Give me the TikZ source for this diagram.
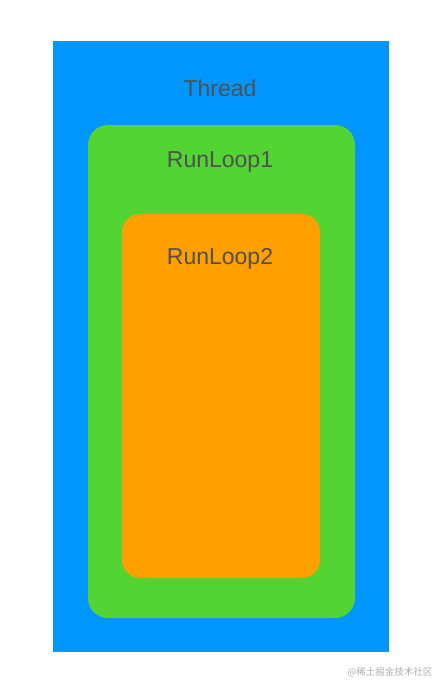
\documentclass[tikz,border=0pt]{standalone}
\usepackage{fontspec}
\setmainfont{Liberation Sans}
\newfontfamily\cjk{Noto Sans CJK SC}
\definecolor{threadblue}{RGB}{0,150,255}
\definecolor{loopgreen}{RGB}{82,212,50}
\definecolor{looporange}{RGB}{255,160,0}
\definecolor{labelgray}{RGB}{80,80,80}
\definecolor{markgray}{RGB}{175,175,175}
\tikzset{
  box/.style={draw=none, inner sep=0pt, outer sep=0pt},
  title/.style={text=labelgray, font=\fontsize{23}{27}\selectfont, inner sep=0pt}
}
\begin{document}
\begin{tikzpicture}[x=1pt,y=-1pt]
\useasboundingbox (0,0) rectangle (447,693);
\fill[white] (0,0) rectangle (447,693);
\node[box, fill=threadblue, minimum width=336pt, minimum height=611pt] (thread) at (221,346.5) {};
\node[box, fill=loopgreen, rounded corners=20pt, minimum width=267pt, minimum height=493pt] (loop1) at (221.5,371.5) {};
\node[box, fill=looporange, rounded corners=18pt, minimum width=198pt, minimum height=364pt] (loop2) at (221,396) {};
\node[title] (threadlabel) at (220,88) {Thread};
\node[title] (loop1label) at (220,162) {RunLoop1};
\node[title] (loop2label) at (220,259) {RunLoop2};
\node[text=markgray, font=\cjk\fontsize{9.5}{11}\selectfont, inner sep=0pt] (mark) at (390,672) {@稀土掘金技术社区};
\end{tikzpicture}
\end{document}
